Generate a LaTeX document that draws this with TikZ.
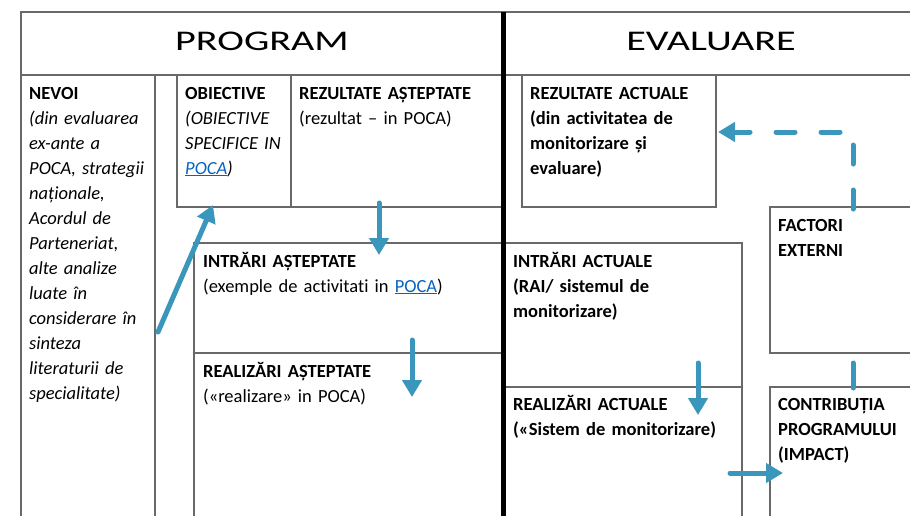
\documentclass[tikz,border=0pt]{standalone}
\usepackage{fontspec}
\setmainfont{Carlito}[Ligatures={TeX,NoCommon}]
\usetikzlibrary{arrows.meta, positioning, calc}
\definecolor{arrowblue}{RGB}{58,150,186}
\definecolor{linkblue}{RGB}{5,99,193}
\definecolor{gridgray}{RGB}{105,105,105}
\hyphenpenalty=10000
\exhyphenpenalty=10000
\tikzset{
  cell/.style={draw=gridgray, line width=1.3pt, anchor=north west, inner sep=0pt, outer sep=0pt},
  celltext/.style={anchor=base west, inner sep=0pt, align=left, text width=#1,
    font=\fontsize{18.5}{25}\selectfont},
  celltext/.default=220pt,
  title/.style={anchor=base, inner sep=0pt, font=\fontsize{28.5}{34}\selectfont},
  flow/.style={draw=arrowblue, line width=5pt, line cap=round, -{Triangle[width=19pt,length=17pt]}}
}
\newcommand{\pocalink}{\textcolor{linkblue}{\underline{POCA}}}

\begin{document}
\begin{tikzpicture}[x=1pt, y=-1pt]
\useasboundingbox (0,0) rectangle (910,515);
\clip (0,0) rectangle (910,515);

% header
\node[cell, minimum width=899pt, minimum height=63pt] (header) at (21,12) {};
\node[title] (program) at (262,50) {\scalebox{1.41}[1]{PROGRAM}};
\node[title] (evaluare) at (711,50) {\scalebox{1.41}[1]{EVALUARE}};

% program side
\node[cell, minimum width=134pt, minimum height=450pt] (nevoi) at (21,75) {};
\node[cell, minimum width=114pt, minimum height=132pt] (obiective) at (177,75) {};
\node[cell, minimum width=212pt, minimum height=132pt] (rezasteptate) at (291,75) {};
\node[cell, minimum width=309pt, minimum height=110pt] (intrasteptate) at (194,243) {};
\node[cell, minimum width=309pt, minimum height=170pt] (realasteptate) at (194,353) {};

% evaluare side
\node[cell, minimum width=194pt, minimum height=132pt] (rezactuale) at (522,75) {};
\node[cell, minimum width=150pt, minimum height=146pt] (factori) at (770,207) {};
\node[cell, minimum width=239pt, minimum height=144pt] (intractuale) at (503,243) {};
\node[cell, minimum width=239pt, minimum height=135pt] (realactuale) at (503,387) {};
\node[cell, minimum width=150pt, minimum height=135pt] (contributia) at (770,387) {};

\draw[line width=5pt] (503,12) -- (503,520);

% texts
\node[celltext=125pt] (nevoi text) at (29,99) {\textbf{NEVOI}\\ \itshape (din evaluarea\\ ex-ante a\\ POCA, strategii\\ naționale,\\ Acordul de\\ Parteneriat,\\ alte analize\\ luate în\\ considerare în\\ sinteza\\ literaturii de\\ specialitate)};
\node[celltext=110pt] (obiective text) at (185,99) {\textbf{OBIECTIVE}\\ \itshape (OBIECTIVE\\ SPECIFICE IN\\ \pocalink)};
\node[celltext] (rezasteptate text) at (299,99) {\textbf{REZULTATE AȘTEPTATE}\\ (rezultat – in POCA)};
\node[celltext=300pt] (intrasteptate text) at (203,267) {\textbf{INTRĂRI AȘTEPTATE}\\ (exemple de activitati in \pocalink)};
\node[celltext] (realasteptate text) at (203,377) {\textbf{REALIZĂRI AȘTEPTATE}\\ («realizare» in POCA)};
\node[celltext, font=\fontsize{18.5}{25}\selectfont\bfseries] (rezactuale text) at (530,99) {REZULTATE ACTUALE\\ (din activitatea de\\ monitorizare și\\ evaluare)};
\node[celltext=130pt, font=\fontsize{18.5}{25}\selectfont\bfseries] (factori text) at (778,231) {FACTORI\\ EXTERNI};
\node[celltext, font=\fontsize{18.5}{25}\selectfont\bfseries] (intractuale text) at (513,267) {INTRĂRI ACTUALE\\ (RAI/ sistemul de\\ monitorizare)};
\node[celltext=230pt, font=\fontsize{18.5}{25}\selectfont\bfseries] (realactuale text) at (513,410) {REALIZĂRI ACTUALE\\ («Sistem de monitorizare)};
\node[celltext=130pt, font=\fontsize{18.5}{25}\selectfont\bfseries] (contributia text) at (778,410) {CONTRIBUȚIA\\ PROGRAMULUI\\ (IMPACT)};

% arrows
\coordinate (nevoi out) at (158,332);
\draw[flow] (nevoi out) -- ($(obiective.south west)+(36,-2)$);
\draw[flow] ($(rezasteptate.south west)+(88,-4)$) -- ($(intrasteptate.north west)+(185,12)$);
\draw[flow] ($(intrasteptate.south west)+(218,-13)$) -- ($(realasteptate.north west)+(218,44)$);
\draw[flow] ($(intractuale.south west)+(195,-24)$) -- ($(realactuale.north west)+(195,28)$);
\draw[flow] ($(realactuale.north east)+(-12,86)$) -- ($(contributia.north west)+(13,86)$);
\draw[flow, -] ($(factori.south west)+(83,10)$) -- ($(contributia.north west)+(83,1)$);
\draw[flow, dash pattern=on 19pt off 26pt] ($(factori.north west)+(83,2)$) |- ($(rezactuale.north east)+(2,57)$);
\end{tikzpicture}
\end{document}
